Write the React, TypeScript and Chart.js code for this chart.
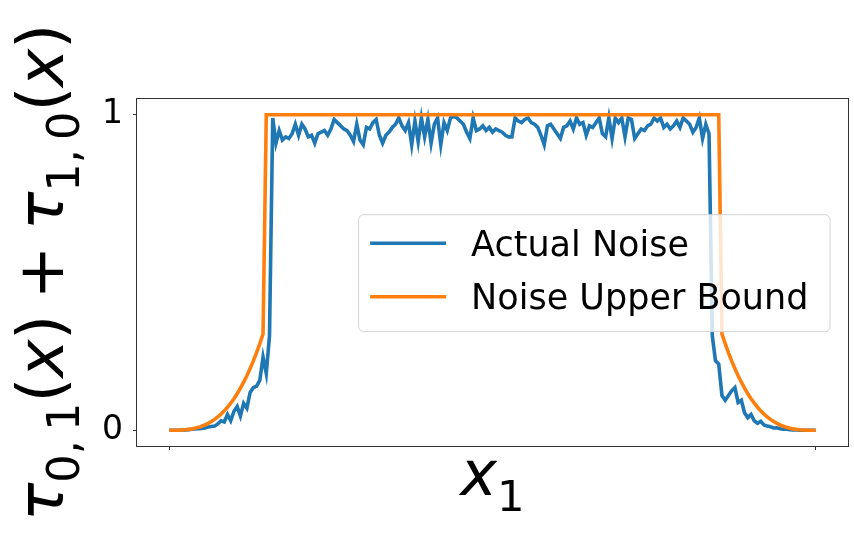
import React, { useEffect, useRef } from "react";
import { Chart, registerables } from "chart.js";

Chart.register(...registerables);

const W = 854;
const H = 541;

// x grid spacing of the sampled series (x runs from 0 to 1)
const X_STEP = 0.005;

// Actual Noise: 201 samples, x = 0 .. 1
const actualNoise = [
  0, 0, 0, 0, 0.0005, 0.001, 0.002, 0.003, 0.004, 0.005,
  0.006, 0.007, 0.01, 0.012, 0.013, 0.02, 0.03, 0.026, 0.05, 0.03,
  0.06, 0.075, 0.045, 0.085, 0.07, 0.12, 0.135, 0.14, 0.158, 0.232,
  0.18, 0.3,
  0.99, 0.91, 0.95, 0.92, 0.93, 0.925, 0.94, 0.97, 0.935, 0.97,
  0.955, 0.93, 0.935, 0.91, 0.94, 0.945, 0.95, 0.935, 0.955, 0.985,
  0.975, 0.965, 0.955, 0.95, 0.935, 0.915, 0.97, 0.92, 0.905, 0.96,
  0.955, 0.975, 0.985, 0.935, 0.91, 0.935, 0.945, 0.96, 0.97, 0.99,
  0.965, 0.95, 0.975, 0.905, 0.98, 0.915, 0.99, 0.93, 0.985, 0.91,
  0.97, 0.99, 0.905, 0.975, 0.95, 0.99, 0.995, 0.99, 0.98, 0.97,
  0.945, 0.925, 0.99, 0.95, 0.955, 0.965, 0.95, 0.96, 0.945, 0.955,
  0.95, 0.945, 0.935, 0.93, 0.93, 0.99, 0.98, 0.975, 0.985, 0.99,
  0.975, 0.97, 0.96, 0.935, 0.905, 0.965, 0.97, 0.955, 0.94, 0.925,
  0.96, 0.965, 0.98, 0.955, 0.99, 0.97, 0.975, 0.935, 0.965, 0.96,
  0.975, 0.99, 0.94, 0.93, 0.99, 0.925, 0.99, 0.975, 0.99, 0.93,
  0.99, 0.985, 0.925, 0.94, 0.955, 0.95, 0.965, 0.97, 0.99, 0.98,
  0.99, 0.96, 0.97, 0.955, 0.965, 0.98, 0.96, 0.99, 0.98, 0.97,
  0.945, 0.96, 0.99, 0.925, 0.97, 0.94,
  0.3, 0.22, 0.21, 0.11, 0.095, 0.11, 0.125, 0.135, 0.088, 0.095,
  0.055, 0.04, 0.05, 0.03, 0.022, 0.028, 0.017, 0.013, 0.011, 0.007,
  0.008, 0.005, 0.003, 0.003, 0.002, 0.001, 0.001, 0, 0, 0,
  0, 0, 0,
];

// Noise Upper Bound: left tail (x = 0 .. 0.145), plateau, right tail (x = 0.855 .. 1)
const boundLeftTail = [
  0, 0, 0.0001, 0.0003, 0.0008, 0.0016, 0.0027, 0.0043, 0.0064, 0.0091,
  0.0125, 0.0166, 0.0216, 0.0275, 0.0343, 0.0422, 0.0512, 0.0614, 0.0729, 0.0858,
  0.1, 0.1158, 0.1332, 0.1522, 0.1729, 0.1954, 0.2198, 0.2461, 0.2745, 0.305,
];
const boundPlateau = { from: 0.15, to: 0.85, value: 1 };
const boundRightTail = [
  0.305, 0.2745, 0.2461, 0.2198, 0.1954, 0.1729, 0.1522, 0.1332, 0.1158, 0.1,
  0.0858, 0.0729, 0.0614, 0.0512, 0.0422, 0.0343, 0.0275, 0.0216, 0.0166, 0.0125,
  0.0091, 0.0064, 0.0043, 0.0027, 0.0016, 0.0008, 0.0003, 0.0001, 0, 0,
];

const seriesNames = ["Actual Noise", "Noise Upper Bound"];
const seriesColors = ["#1f77b4", "#ff7f0e"];
const yTicks = [0, 1];
const xTicks = [0, 1];
const yRange = [-0.05, 1.05];
const xRange = [-0.05, 1.05];

const FAMILY = "'DejaVu Sans', sans-serif";

type Piece = { t: string; italic?: boolean; sub?: boolean; gap?: number };

const yLabelPieces: Piece[] = [
  { t: "τ", italic: true },
  { t: "0,\u20091", sub: true },
  { t: "(" },
  { t: "x", italic: true },
  { t: ")" },
  { t: "+", gap: 0.24 },
  { t: "τ", italic: true },
  { t: "1,\u20090", sub: true },
  { t: "(" },
  { t: "x", italic: true },
  { t: ")" },
];
const xLabelPieces: Piece[] = [
  { t: "x", italic: true },
  { t: "1", sub: true },
];

function pieceFont(p: Piece, size: number) {
  const s = p.sub ? size * 0.7 : size;
  return `${p.italic ? "italic " : ""}${s}px ${FAMILY}`;
}

function measurePieces(ctx: CanvasRenderingContext2D, pieces: Piece[], size: number) {
  let w = 0;
  for (const p of pieces) {
    ctx.font = pieceFont(p, size);
    w += ctx.measureText(p.t).width + (p.gap ? 2 * p.gap * size : 0);
  }
  return w;
}

function drawPieces(ctx: CanvasRenderingContext2D, pieces: Piece[], size: number) {
  const total = measurePieces(ctx, pieces, size);
  let x = -total / 2;
  ctx.textBaseline = "alphabetic";
  ctx.textAlign = "left";
  for (const p of pieces) {
    ctx.font = pieceFont(p, size);
    if (p.gap) x += p.gap * size;
    ctx.fillText(p.t, x, p.sub ? size * 0.25 : 0);
    x += ctx.measureText(p.t).width;
    if (p.gap) x += p.gap * size;
  }
}

const decorPlugin = {
  id: "decor",
  afterDatasetsDraw(chart: any) {
    const { ctx, chartArea } = chart;
    const { left, right, top, bottom } = chartArea;
    ctx.save();
    // frame
    ctx.strokeStyle = "#333";
    ctx.lineWidth = 1;
    ctx.strokeRect(left - 0.5, top - 0.5, right - left + 1, bottom - top + 1);

    // legend
    const lx = left + (right - left) * 0.311;
    const ly = top + (bottom - top) * 0.332;
    const lw = (right - left) * 0.663;
    const lh = (bottom - top) * 0.337;
    ctx.beginPath();
    (ctx as any).roundRect(lx + 0.5, ly + 0.5, lw, lh, 5);
    ctx.fillStyle = "rgba(255,255,255,0.8)";
    ctx.fill();
    ctx.strokeStyle = "#d3d3d3";
    ctx.lineWidth = 1;
    ctx.stroke();
    const rowY = [ly + 29, ly + 82.5];
    seriesNames.forEach((name, i) => {
      ctx.strokeStyle = seriesColors[i];
      ctx.lineWidth = 3.6;
      ctx.beginPath();
      ctx.moveTo(lx + 12, rowY[i]);
      ctx.lineTo(lx + 88, rowY[i]);
      ctx.stroke();
      ctx.fillStyle = "#000";
      ctx.font = `35px ${FAMILY}`;
      ctx.textBaseline = "alphabetic";
      ctx.textAlign = "left";
      ctx.fillText(name, lx + 113, rowY[i] + 12.5);
    });

    // axis titles
    ctx.fillStyle = "#000";
    ctx.save();
    ctx.translate(63, (top + bottom) / 2);
    ctx.rotate(-Math.PI / 2);
    drawPieces(ctx, yLabelPieces, 64);
    ctx.restore();

    ctx.save();
    ctx.translate((left + right) / 2, 495);
    drawPieces(ctx, xLabelPieces, 62);
    ctx.restore();

    ctx.restore();
  },
};

export default function App() {
  const ref = useRef<HTMLCanvasElement | null>(null);

  useEffect(() => {
    document.body.style.margin = "0";
    const canvas = ref.current;
    if (!canvas) return;

    const noisePoints = actualNoise.map((v, i) => ({ x: i * X_STEP, y: v }));
    const boundPoints = [
      ...boundLeftTail.map((v, i) => ({ x: i * X_STEP, y: v })),
      { x: boundPlateau.from, y: boundPlateau.value },
      { x: boundPlateau.to, y: boundPlateau.value },
      ...boundRightTail.map((v, i) => ({ x: boundPlateau.to + (i + 1) * X_STEP, y: v })),
    ];

    const chart = new Chart(canvas, {
      type: "line",
      data: {
        datasets: [
          {
            label: seriesNames[0],
            data: noisePoints,
            borderColor: seriesColors[0],
            backgroundColor: seriesColors[0],
            borderWidth: 3.6,
            pointRadius: 0,
            tension: 0,
            order: 2,
          },
          {
            label: seriesNames[1],
            data: boundPoints,
            borderColor: seriesColors[1],
            backgroundColor: seriesColors[1],
            borderWidth: 3.6,
            pointRadius: 0,
            tension: 0,
            order: 1,
          },
        ],
      },
      options: {
        responsive: false,
        animation: false,
        devicePixelRatio: 1,
        layout: { padding: { left: 0, right: 6, top: 99, bottom: 0 } },
        plugins: {
          legend: { display: false },
          tooltip: { enabled: false },
        },
        scales: {
          x: {
            type: "linear",
            min: xRange[0],
            max: xRange[1],
            afterBuildTicks: (s: any) => {
              s.ticks = xTicks.map((v) => ({ value: v }));
            },
            afterFit: (s: any) => {
              s.height = 95;
            },
            ticks: { callback: () => "", autoSkip: false },
            grid: { drawOnChartArea: false, drawTicks: true, tickLength: 4, color: "#333" },
            border: { display: false },
          },
          y: {
            type: "linear",
            min: yRange[0],
            max: yRange[1],
            afterBuildTicks: (s: any) => {
              s.ticks = yTicks.map((v) => ({ value: v }));
            },
            afterFit: (s: any) => {
              s.width = 137;
            },
            ticks: {
              callback: (v: any) => String(v),
              autoSkip: false,
              color: "#000",
              padding: 10,
              font: { family: FAMILY, size: 33 },
            },
            grid: { drawOnChartArea: false, drawTicks: true, tickLength: 4, color: "#333" },
            border: { display: false },
          },
        },
      },
      plugins: [decorPlugin],
    } as any);

    return () => chart.destroy();
  }, []);

  return (
    <div style={{ position: "absolute", left: 0, top: 0, width: W, height: H, background: "#fff" }}>
      <canvas ref={ref} width={W} height={H} style={{ display: "block" }} />
    </div>
  );
}
